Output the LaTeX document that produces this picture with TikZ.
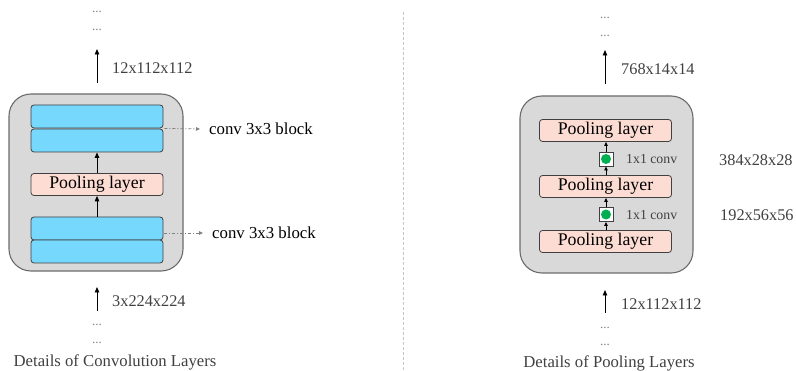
\documentclass[tikz,border=0pt]{standalone}
\usepackage{fontspec}
\setmainfont{Liberation Serif}
\usetikzlibrary{arrows.meta,positioning}
\definecolor{panelgray}{HTML}{D9D9D9}
\definecolor{panelline}{HTML}{6B6B6B}
\definecolor{convblue}{HTML}{77D8FE}
\definecolor{poolpink}{HTML}{FDDCD3}
\definecolor{dotgreen}{HTML}{00B050}
\definecolor{txtgray}{HTML}{404040}
\tikzset{
  panel/.style={draw=panelline, fill=panelgray, line width=1.1pt, rounded corners=22pt},
  convbox/.style={draw=txtgray, fill=convblue, line width=0.8pt, rounded corners=3pt,
    minimum width=132pt, minimum height=23pt, inner sep=0pt},
  poolbox/.style={draw=txtgray, fill=poolpink, line width=0.8pt, rounded corners=3pt,
    minimum width=132pt, minimum height=22pt, inner sep=0pt, font=\fontsize{17.8}{18}\selectfont},
  onebyone/.style={draw=txtgray, fill=white, line width=0.8pt, minimum size=14pt, inner sep=0pt},
  flow/.style={-{Triangle[length=5.5pt,width=4.5pt]}, line width=0.9pt, black},
  shortflow/.style={-{Triangle[length=4pt,width=3.5pt]}, line width=0.8pt, black},
  hint/.style={-{Triangle[length=4pt,width=3.5pt]}, draw=gray, line width=0.8pt,
    dash pattern=on 3pt off 2pt on 1pt off 2pt},
  dimlabel/.style={anchor=west, text=txtgray, inner sep=0pt, font=\fontsize{16.3}{18}\selectfont},
  blocklabel/.style={anchor=west, text=black, inner sep=0pt, font=\fontsize{16.8}{18}\selectfont},
  smalllabel/.style={anchor=west, text=txtgray, inner sep=0pt, font=\fontsize{13.8}{15}\selectfont},
  ellip/.style={text=gray, inner sep=0pt, font=\fontsize{13}{13}\selectfont},
  caption/.style={text=txtgray, inner sep=0pt, font=\fontsize{16.7}{18}\selectfont}
}
\begin{document}
\begin{tikzpicture}[x=1pt,y=-1pt]
\useasboundingbox (0,0) rectangle (796,371);

% column divider
\draw[gray!45, line width=0.8pt, dash pattern=on 3pt off 2pt] (403,12) -- (403,371);

% ---------------- convolution layers ----------------
\draw[panel] (9,94) rectangle (183,271);
\node[convbox] (c1) at (97,116.5) {};
\node[convbox] (c2) at (97,140.5) {};
\node[poolbox] (pl) at (97,184.5) {Pooling layer};
\node[convbox] (c3) at (97,228.5) {};
\node[convbox] (c4) at (97,251.5) {};
\draw[flow] (pl.north) -- (c2.south);
\draw[flow] (c3.north) -- (pl.south);

\node[blocklabel] (bl1) at (209,129) {conv 3x3 block};
\draw[hint] ([xshift=1pt]c1.south east) -- ([xshift=-9pt]bl1.west);
\node[blocklabel] (bl2) at (212,233) {conv 3x3 block};
\draw[hint] ([xshift=1pt,yshift=-4.5pt]c3.east) -- ([xshift=-9pt]bl2.west);

% output of the convolution stage
\coordinate (ltop0) at (97,83);
\coordinate (ltop1) at (97,49);
\draw[flow] (ltop0) -- (ltop1);
\node[dimlabel] (lout) at (112,68) {12x112x112};
\node[ellip] (ld1) at (97,12) {...};
\node[ellip] (ld2) at (97,30) {...};

% input of the convolution stage
\coordinate (lbot0) at (97,311);
\coordinate (lbot1) at (97,287);
\draw[flow] (lbot0) -- (lbot1);
\node[dimlabel] (lin) at (112,301) {3x224x224};
\node[ellip] (ld3) at (97,325) {...};
\node[ellip] (ld4) at (97,343) {...};
\node[caption] (lcap) at (115,362) {Details of Convolution Layers};

% ---------------- pooling layers ----------------
\draw[panel] (520,96) rectangle (693,273);
\node[poolbox] (p1) at (605.5,130.5) {Pooling layer};
\node[poolbox] (p2) at (605.5,186.5) {Pooling layer};
\node[poolbox] (p3) at (605.5,241.5) {Pooling layer};
\node[onebyone] (s1) at (606,159) {};
\node[onebyone] (s2) at (606,214.5) {};
\fill[dotgreen] (s1.center) circle (5pt);
\fill[dotgreen] (s2.center) circle (5pt);
\draw[shortflow] (p2.north -| s1) -- (s1.south);
\draw[shortflow] (s1.north) -- (p1.south -| s1);
\draw[shortflow] (p3.north -| s2) -- (s2.south);
\draw[shortflow] (s2.north) -- (p2.south -| s2);
\node[smalllabel] (k1) at (626,159) {1x1 conv};
\node[smalllabel] (k2) at (626,215) {1x1 conv};
\node[dimlabel] (m1) at (719,160) {384x28x28};
\node[dimlabel] (m2) at (720,215) {192x56x56};

% output of the pooling stage
\coordinate (rtop0) at (605,84);
\coordinate (rtop1) at (605,50);
\draw[flow] (rtop0) -- (rtop1);
\node[dimlabel] (rout) at (621,69) {768x14x14};
\node[ellip] (rd1) at (605,18) {...};
\node[ellip] (rd2) at (605,36) {...};

% input of the pooling stage
\coordinate (rbot0) at (605,313);
\coordinate (rbot1) at (605,290);
\draw[flow] (rbot0) -- (rbot1);
\node[dimlabel] (rin) at (621,304) {12x112x112};
\node[ellip] (rd3) at (605,328) {...};
\node[ellip] (rd4) at (605,345) {...};
\node[caption] (rcap) at (609,363) {Details of Pooling Layers};
\end{tikzpicture}
\end{document}
